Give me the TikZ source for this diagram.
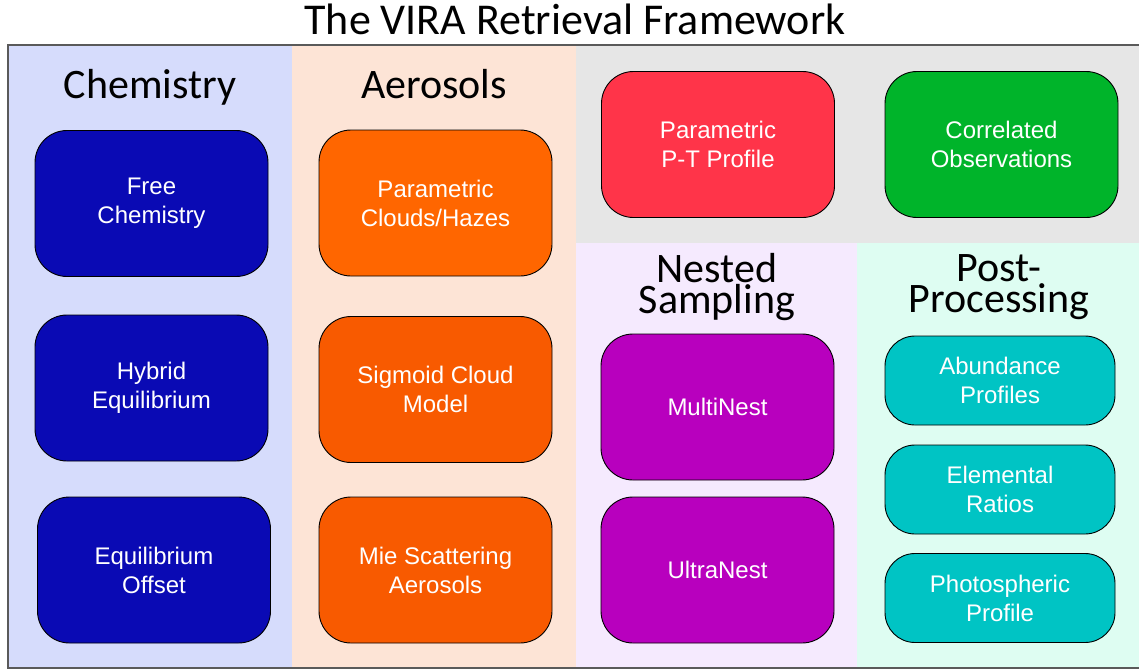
\documentclass[tikz,border=0pt]{standalone}
\usepackage{fontspec}
\setmainfont{Liberation Sans}
\newfontfamily\hdrfont{Carlito}
\definecolor{chemBg}{HTML}{D6DCFC}
\definecolor{aeroBg}{HTML}{FDE4D6}
\definecolor{grayBg}{HTML}{E6E6E6}
\definecolor{nestBg}{HTML}{F5EAFE}
\definecolor{postBg}{HTML}{DEFDF2}
\definecolor{chemBox}{HTML}{0A0AB4}
\definecolor{aeroBoxA}{HTML}{FF6600}
\definecolor{aeroBoxB}{HTML}{F85A00}
\definecolor{ptBox}{HTML}{FF3449}
\definecolor{corrBox}{HTML}{00B42A}
\definecolor{nestBox}{HTML}{B800BE}
\definecolor{postBox}{HTML}{00C4C4}
\definecolor{frameCol}{HTML}{5A5A5A}
\tikzset{
  bigbox/.style={draw=black, line width=0.9pt, rounded corners=32pt,
    minimum width=233pt, minimum height=146pt, inner sep=0pt,
    text=white, align=center, font=\fontsize{24}{29}\selectfont},
  smallbox/.style={bigbox, rounded corners=30pt, minimum width=230pt, minimum height=89pt},
  header/.style={anchor=base, align=center, font=\hdrfont\fontsize{42}{31}\selectfont},
}
\begin{document}
\begin{tikzpicture}[x=1pt, y=-1pt]
\useasboundingbox (0,0) rectangle (1139,669);
% panels
\fill[chemBg] (8,45) rectangle (292,668);
\fill[aeroBg] (292,45) rectangle (576,668);
\fill[grayBg] (576,45) rectangle (1141,243);
\fill[nestBg] (576,243) rectangle (857,668);
\fill[postBg] (857,243) rectangle (1141,668);
\draw[frameCol, line width=1.6pt] (8,45) rectangle (1141,668);
% title
\node[header, font=\hdrfont\fontsize{44}{44}\selectfont] (title) at (575,35) {The VIRA Retrieval Framework};
% headers
\node[header] (hchem) at (150,98) {Chemistry};
\node[header] (haero) at (434,98) {Aerosols};
\node[header] (hnest) at (717,313) {Nested\\Sampling};
\node[header] (hpost) at (999,312) {Post-\\Processing};
% chemistry
\node[bigbox, fill=chemBox] (free) at (151.5,203.5) {Free\\Chemistry};
\node[bigbox, fill=chemBox] (hybrid) at (151.5,388) {Hybrid\\Equilibrium};
\node[bigbox, fill=chemBox] (offset) at (154,570) {Equilibrium\\Offset};
% aerosols
\node[bigbox, fill=aeroBoxA] (clouds) at (435.5,203) {Parametric\\Clouds/Hazes};
\node[bigbox, fill=aeroBoxB] (sigmoid) at (435.5,389.5) {Sigmoid Cloud\\Model};
\node[bigbox, fill=aeroBoxB] (mie) at (435.5,570) {Mie Scattering\\Aerosols};
% top right
\node[bigbox, fill=ptBox] (pt) at (718,144.5) {Parametric\\P-T Profile};
\node[bigbox, fill=corrBox] (corr) at (1001.5,144.5) {Correlated\\Observations};
% nested sampling
\node[bigbox, fill=nestBox] (multi) at (717.5,407) {MultiNest};
\node[bigbox, fill=nestBox] (ultra) at (717.5,570) {UltraNest};
% post-processing
\node[smallbox, fill=postBox] (abund) at (1000,380.5) {Abundance\\Profiles};
\node[smallbox, fill=postBox] (elem) at (1000,489.5) {Elemental\\Ratios};
\node[smallbox, fill=postBox] (photo) at (1000,598) {Photospheric\\Profile};
\end{tikzpicture}
\end{document}
